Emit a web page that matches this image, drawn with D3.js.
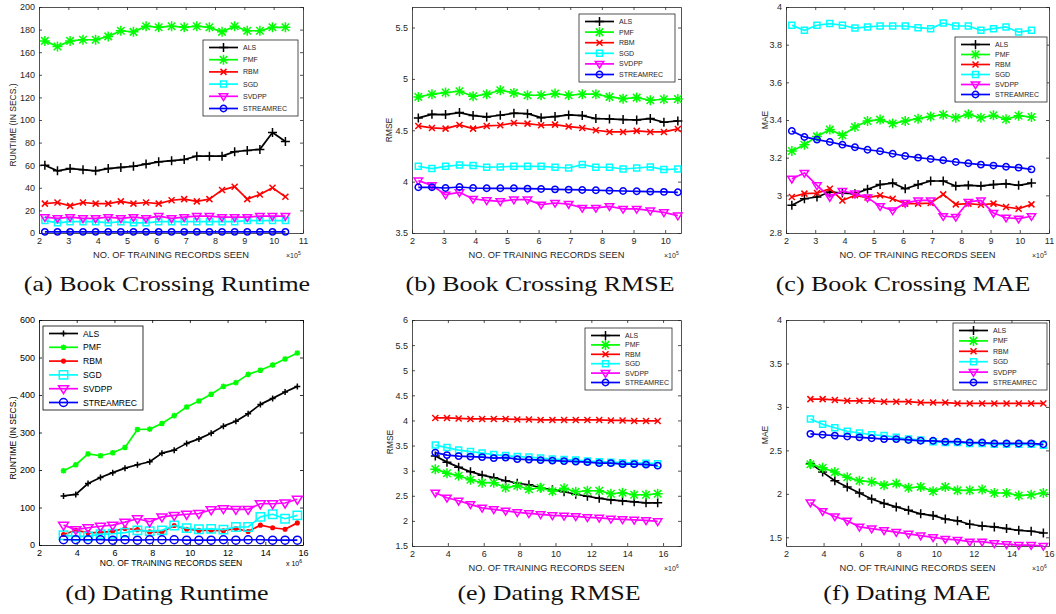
<!DOCTYPE html>
<html>
<head>
<meta charset="utf-8">
<script src="https://cdn.jsdelivr.net/npm/d3@7"></script>
<style>
  body { margin: 0; background: #fff; }
  svg { display: block; }
</style>
</head>
<body>
<script>
// ---- data ----
var methods = ['ALS', 'PMF', 'RBM', 'SGD', 'SVDPP', 'STREAMREC'];

// training records seen: x10^5 for Book Crossing, x10^6 for Dating
var bcX = [2.2, 2.63, 3.06, 3.5, 3.93, 4.36, 4.79, 5.22, 5.65, 6.08, 6.52, 6.95, 7.38, 7.81, 8.24, 8.67, 9.1, 9.53, 9.96, 10.4];
var datX = [3.3, 3.95, 4.6, 5.26, 5.91, 6.56, 7.22, 7.87, 8.52, 9.17, 9.83, 10.48, 11.13, 11.78, 12.44, 13.09, 13.74, 14.39, 15.05, 15.7];

// (a) Book Crossing runtime
var bcRunALS = [60, 55, 57, 56, 55, 57, 58, 59, 61, 63, 64, 65, 68, 68, 68, 72, 73, 74, 89, 81];
var bcRunPMF = [170, 165, 170, 171, 171, 174, 179, 178, 183, 182, 183, 182, 183, 182, 178, 183, 179, 179, 182, 182];
var bcRunRBM = [26, 27, 24, 27, 26, 26, 28, 26, 27, 26, 29, 30, 28, 30, 38, 41, 30, 34, 40, 32];
var bcRunSGD = [11, 9, 10, 10, 10, 9, 10, 9, 9, 10, 10, 10, 10, 10, 10, 10, 11, 11, 11, 11];
var bcRunSVDPP = [14, 13, 14, 13, 13, 14, 13, 14, 13, 15, 13, 14, 15, 15, 14, 14, 14, 15, 15, 15];
var bcRunSTREAMREC = [1, 1, 1, 1, 1, 1, 1, 1, 1, 1, 1, 1, 1, 1, 1, 1, 1, 1, 1, 1];

// (b) Book Crossing RMSE
var bcRmseALS = [4.62, 4.655, 4.653, 4.672, 4.643, 4.63, 4.646, 4.666, 4.662, 4.623, 4.633, 4.649, 4.643, 4.614, 4.61, 4.604, 4.601, 4.614, 4.578, 4.591];
var bcRmsePMF = [4.825, 4.851, 4.867, 4.88, 4.831, 4.851, 4.89, 4.864, 4.841, 4.841, 4.857, 4.841, 4.851, 4.851, 4.825, 4.808, 4.818, 4.792, 4.802, 4.805];
var bcRmseRBM = [4.542, 4.523, 4.516, 4.552, 4.516, 4.542, 4.549, 4.571, 4.565, 4.549, 4.555, 4.536, 4.523, 4.5, 4.484, 4.484, 4.494, 4.484, 4.484, 4.513];
var bcRmseSGD = [4.149, 4.127, 4.149, 4.162, 4.156, 4.14, 4.143, 4.149, 4.149, 4.149, 4.14, 4.133, 4.166, 4.14, 4.14, 4.123, 4.133, 4.143, 4.117, 4.123];
var bcRmseSVDPP = [4.01, 3.964, 3.873, 3.896, 3.831, 3.818, 3.808, 3.825, 3.825, 3.776, 3.792, 3.782, 3.744, 3.744, 3.76, 3.734, 3.734, 3.718, 3.701, 3.669];
var bcRmseSTREAMREC = [3.945, 3.945, 3.938, 3.948, 3.938, 3.935, 3.935, 3.935, 3.932, 3.929, 3.925, 3.922, 3.919, 3.916, 3.912, 3.909, 3.906, 3.903, 3.9, 3.896];

// (c) Book Crossing MAE
var bcMaeALS = [2.947, 2.982, 2.991, 3.018, 3.012, 3.009, 3.032, 3.057, 3.065, 3.035, 3.057, 3.076, 3.076, 3.05, 3.053, 3.05, 3.057, 3.062, 3.053, 3.065];
var bcMaePMF = [3.235, 3.269, 3.313, 3.349, 3.319, 3.363, 3.395, 3.402, 3.381, 3.395, 3.407, 3.419, 3.428, 3.412, 3.43, 3.412, 3.425, 3.404, 3.423, 3.416];
var bcMaeRBM = [2.991, 3.009, 3.012, 3.035, 2.973, 3.0, 2.988, 3.0, 2.982, 2.956, 2.956, 2.959, 3.005, 2.952, 2.956, 2.95, 2.956, 2.938, 2.929, 2.952];
var bcMaeSGD = [3.903, 3.876, 3.903, 3.912, 3.903, 3.888, 3.894, 3.899, 3.899, 3.899, 3.89, 3.885, 3.915, 3.899, 3.899, 3.876, 3.885, 3.894, 3.867, 3.876];
var bcMaeSVDPP = [3.088, 3.119, 3.053, 2.991, 3.023, 3.009, 2.988, 2.942, 2.92, 2.959, 2.973, 2.973, 2.889, 2.885, 2.965, 2.973, 2.906, 2.881, 2.876, 2.889];
var bcMaeSTREAMREC = [3.342, 3.31, 3.296, 3.283, 3.269, 3.255, 3.242, 3.234, 3.221, 3.209, 3.2, 3.193, 3.186, 3.177, 3.17, 3.163, 3.158, 3.152, 3.147, 3.138];

// (d) Dating runtime
var datRunALS = [131, 135, 164, 180, 193, 205, 214, 222, 245, 253, 271, 283, 298, 317, 330, 350, 375, 391, 408, 423];
var datRunPMF = [198, 214, 243, 238, 246, 260, 308, 309, 324, 345, 368, 384, 402, 423, 433, 455, 466, 480, 496, 512];
var datRunRBM = [28, 39, 33, 33, 37, 44, 41, 35, 34, 52, 42, 39, 39, 38, 44, 36, 53, 46, 42, 59];
var datRunSGD = [26, 23, 23, 29, 30, 33, 39, 37, 39, 52, 45, 42, 43, 41, 48, 48, 75, 82, 70, 79];
var datRunSVDPP = [53, 41, 46, 50, 53, 61, 70, 62, 75, 79, 82, 84, 94, 97, 95, 95, 110, 110, 112, 122];
var datRunSTREAMREC = [14, 14, 14, 14, 13, 14, 13, 14, 14, 14, 13, 13, 13, 14, 13, 14, 14, 13, 13, 13];

// (e) Dating RMSE
var datRmseALS = [3.29, 3.17, 3.07, 2.98, 2.91, 2.86, 2.8, 2.75, 2.72, 2.66, 2.62, 2.58, 2.53, 2.49, 2.45, 2.42, 2.4, 2.38, 2.36, 2.36];
var datRmsePMF = [3.03, 2.95, 2.9, 2.82, 2.76, 2.76, 2.66, 2.7, 2.63, 2.66, 2.59, 2.65, 2.58, 2.6, 2.6, 2.54, 2.56, 2.52, 2.52, 2.54];
var datRmseRBM = [4.05, 4.05, 4.04, 4.03, 4.03, 4.03, 4.03, 4.02, 4.02, 4.01, 4.01, 4.01, 4.01, 4.01, 4.01, 4.0, 4.0, 3.99, 3.99, 3.99];
var datRmseSGD = [3.51, 3.46, 3.41, 3.38, 3.35, 3.32, 3.3, 3.28, 3.27, 3.25, 3.23, 3.22, 3.21, 3.19, 3.18, 3.17, 3.16, 3.15, 3.15, 3.14];
var datRmseSVDPP = [2.56, 2.46, 2.4, 2.33, 2.26, 2.23, 2.2, 2.17, 2.15, 2.13, 2.11, 2.1, 2.09, 2.07, 2.06, 2.04, 2.03, 2.02, 2.01, 1.99];
var datRmseSTREAMREC = [3.36, 3.31, 3.29, 3.28, 3.27, 3.25, 3.26, 3.23, 3.22, 3.21, 3.2, 3.19, 3.18, 3.17, 3.15, 3.15, 3.13, 3.13, 3.12, 3.1];

// (f) Dating MAE
var datMaeALS = [2.35, 2.25, 2.15, 2.08, 2.01, 1.94, 1.89, 1.85, 1.81, 1.77, 1.75, 1.71, 1.69, 1.65, 1.63, 1.62, 1.6, 1.58, 1.57, 1.55];
var datMaePMF = [2.34, 2.3, 2.25, 2.19, 2.15, 2.14, 2.1, 2.12, 2.07, 2.08, 2.03, 2.08, 2.04, 2.04, 2.05, 2.01, 2.01, 1.98, 1.99, 2.01];
var datMaeRBM = [3.09, 3.09, 3.08, 3.07, 3.07, 3.07, 3.06, 3.06, 3.06, 3.05, 3.05, 3.05, 3.04, 3.04, 3.04, 3.04, 3.04, 3.04, 3.04, 3.04];
var datMaeSGD = [2.86, 2.8, 2.76, 2.72, 2.7, 2.68, 2.67, 2.65, 2.63, 2.62, 2.6, 2.59, 2.59, 2.58, 2.58, 2.57, 2.57, 2.57, 2.57, 2.56];
var datMaeSVDPP = [1.9, 1.8, 1.74, 1.69, 1.62, 1.6, 1.58, 1.56, 1.54, 1.52, 1.5, 1.48, 1.47, 1.45, 1.45, 1.43, 1.42, 1.41, 1.41, 1.4];
var datMaeSTREAMREC = [2.69, 2.68, 2.67, 2.66, 2.65, 2.64, 2.63, 2.63, 2.62, 2.61, 2.61, 2.6, 2.6, 2.59, 2.59, 2.58, 2.58, 2.58, 2.58, 2.57];

// tick values
var bcXTicks = [2, 3, 4, 5, 6, 7, 8, 9, 10, 11];
var bcXTicksB = [2, 3, 4, 5, 6, 7, 8, 9, 10];
var datXTicks = [2, 4, 6, 8, 10, 12, 14, 16];
var runTicksA = [0, 20, 40, 60, 80, 100, 120, 140, 160, 180, 200];
var rmseTicksB = [3.5, 4, 4.5, 5, 5.5];
var maeTicksC = [2.8, 3, 3.2, 3.4, 3.6, 3.8, 4];
var runTicksD = [0, 100, 200, 300, 400, 500, 600];
var rmseTicksE = [1.5, 2, 2.5, 3, 3.5, 4, 4.5, 5, 5.5, 6];
var maeTicksF = [1.5, 2, 2.5, 3, 3.5, 4];

// ---- styles ----
var colors = { ALS: '#000000', PMF: '#00ff00', RBM: '#ff0000', SGD: '#00ffff', SVDPP: '#ff00ff', STREAMREC: '#0000ff' };
var newMarks = { ALS: ['plus', 4.5], PMF: ['star', 5], RBM: ['x', 4], SGD: ['square', 3], SVDPP: ['tri', 4.2], STREAMREC: ['circle', 3.2] };
var oldMarks = { ALS: ['plus', 3], PMF: ['star', 2.8], RBM: ['dot', 1.8], SGD: ['square', 4.2], SVDPP: ['tri', 5], STREAMREC: ['circle', 4] };
var sans = "'Liberation Sans', Arial, sans-serif";

function pick(prefix) {
  var out = {};
  methods.forEach(function (m) { out[m] = window[prefix + m]; });
  return out;
}

var panels = [
  { left: 39, right: 303, top: 7, bottom: 233, xd: [2, 11], xt: bcXTicks, yd: [0, 200], yt: runTicksA,
    xs: bcX, ser: pick('bcRun'), ylab: 'RUNTIME (IN SECS.)', ylx: 13, yly: 125, exp: '5',
    leg: [203, 40, 95, 76], cap: '(a) Book Crossing Runtime', capx: 167, capy: 291 },
  { left: 412, right: 681, top: 7, bottom: 233, xd: [2, 10.5], xt: bcXTicksB, yd: [3.5, 5.7], yt: rmseTicksB,
    xs: bcX, ser: pick('bcRmse'), ylab: 'RMSE', ylx: 389, yly: 130, exp: '5',
    leg: [579, 14, 96, 68], cap: '(b) Book Crossing RMSE', capx: 540, capy: 291 },
  { left: 786, right: 1049, top: 7, bottom: 233, xd: [2, 11], xt: bcXTicks, yd: [2.8, 4], yt: maeTicksC,
    xs: bcX, ser: pick('bcMae'), ylab: 'MAE', ylx: 765, yly: 120, exp: '5',
    leg: [955, 37, 92, 65], cap: '(c) Book Crossing MAE', capx: 903, capy: 291 },
  { left: 39, right: 303, top: 320, bottom: 545, xd: [2, 16], xt: datXTicks, yd: [0, 600], yt: runTicksD,
    xs: datX, ser: pick('datRun'), ylab: 'RUNTIME (IN SECS.)', ylx: 13, yly: 438, exp: '6', old: true,
    leg: [43, 326, 100, 84], cap: '(d) Dating Runtime', capx: 167, capy: 600 },
  { left: 412, right: 681, top: 320, bottom: 546, xd: [2, 17], xt: datXTicks, yd: [1.5, 6], yt: rmseTicksE,
    xs: datX, ser: pick('datRmse'), ylab: 'RMSE', ylx: 390, yly: 442, exp: '6',
    leg: [585, 328, 87, 62], cap: '(e) Dating RMSE', capx: 549, capy: 600 },
  { left: 786, right: 1049, top: 320, bottom: 546, xd: [2, 16], xt: datXTicks, yd: [1.4, 4], yt: maeTicksF,
    xs: datX, ser: pick('datMae'), ylab: 'MAE', ylx: 765, yly: 435, exp: '6',
    leg: [953, 323, 94, 67], cap: '(f) Dating MAE', capx: 907, capy: 600 }
];

function markerPath(type, r) {
  var a = r * 0.75;
  switch (type) {
    case 'plus': return 'M' + (-r) + ',0H' + r + 'M0,' + (-r) + 'V' + r;
    case 'x': return 'M' + (-a) + ',' + (-a) + 'L' + a + ',' + a + 'M' + (-a) + ',' + a + 'L' + a + ',' + (-a);
    case 'star': return 'M' + (-r) + ',0H' + r + 'M0,' + (-r) + 'V' + r +
      'M' + (-a) + ',' + (-a) + 'L' + a + ',' + a + 'M' + (-a) + ',' + a + 'L' + a + ',' + (-a);
    case 'square': return 'M' + (-r) + ',' + (-r) + 'H' + r + 'V' + r + 'H' + (-r) + 'Z';
    case 'tri': return 'M' + (-r) + ',' + (-r * 0.6) + 'H' + r + 'L0,' + r + 'Z';
    case 'circle':
    case 'dot': return 'M' + r + ',0A' + r + ',' + r + ' 0 1,1 ' + (-r) + ',0A' + r + ',' + r + ' 0 1,1 ' + r + ',0Z';
  }
}

var svg = d3.select('body').append('svg').attr('width', 1056).attr('height', 614);

function drawMarker(g, m, x, y, p) {
  var mk = (p.old ? oldMarks : newMarks)[m];
  g.append('path')
    .attr('transform', 'translate(' + x + ',' + y + ')')
    .attr('d', markerPath(mk[0], mk[1]))
    .attr('fill', mk[0] === 'dot' ? colors[m] : 'none')
    .attr('stroke', colors[m])
    .attr('stroke-width', 1.5);
}

panels.forEach(function (p) {
  var ink = p.old ? '#000' : '#262626';
  var x = d3.scaleLinear().domain(p.xd).range([p.left, p.right]);
  var y = d3.scaleLinear().domain(p.yd).range([p.bottom, p.top]);
  var g = svg.append('g');

  // axes with inward ticks on all sides
  var fmt = function (d) { return d3.format('~g')(d); };
  var axB = g.append('g').attr('transform', 'translate(0,' + p.bottom + ')')
    .call(d3.axisBottom(x).tickValues(p.xt).tickSizeInner(-3).tickSizeOuter(0).tickPadding(5).tickFormat(fmt));
  var axT = g.append('g').attr('transform', 'translate(0,' + p.top + ')')
    .call(d3.axisTop(x).tickValues(p.xt).tickSizeInner(-3).tickSizeOuter(0).tickFormat(''));
  var axL = g.append('g').attr('transform', 'translate(' + p.left + ',0)')
    .call(d3.axisLeft(y).tickValues(p.yt).tickSizeInner(-3).tickSizeOuter(0).tickPadding(4).tickFormat(fmt));
  var axR = g.append('g').attr('transform', 'translate(' + p.right + ',0)')
    .call(d3.axisRight(y).tickValues(p.yt).tickSizeInner(-3).tickSizeOuter(0).tickFormat(''));
  [axB, axT, axL, axR].forEach(function (ax) {
    ax.select('.domain').attr('stroke', ink).attr('stroke-width', 0.8);
    ax.selectAll('line').attr('stroke', ink).attr('stroke-width', 0.8);
    ax.selectAll('text').attr('fill', ink).style('font-family', sans).style('font-size', '9px');
  });

  // series
  methods.forEach(function (m) {
    var vals = p.ser[m];
    var pts = vals.map(function (v, i) { return [x(p.xs[i]), y(v)]; });
    g.append('path').datum(pts)
      .attr('d', d3.line())
      .attr('fill', 'none')
      .attr('stroke', colors[m])
      .attr('stroke-width', 1.7)
      .attr('stroke-linejoin', 'round');
    var mg = g.append('g');
    pts.forEach(function (pt) { drawMarker(mg, m, pt[0], pt[1], p); });
  });

  // labels
  g.append('text')
    .attr('x', (p.left + p.right) / 2).attr('y', p.old ? p.bottom + 21 : p.bottom + 25)
    .attr('text-anchor', 'middle').attr('fill', ink)
    .style('font-family', sans).style('font-size', p.old ? '8.5px' : '9.3px')
    .text('NO. OF TRAINING RECORDS SEEN');
  var ex = g.append('text')
    .attr('x', p.right - 17).attr('y', p.old ? p.bottom + 21 : p.bottom + 25)
    .attr('fill', ink)
    .style('font-family', sans).style('font-size', '7px');
  ex.append('tspan').text(p.old ? 'x 10' : '\u00d710');
  ex.append('tspan').attr('dy', -3.5).style('font-size', '5px').text(p.exp);

  g.append('text')
    .attr('transform', 'translate(' + p.ylx + ',' + p.yly + ') rotate(-90)')
    .attr('text-anchor', 'middle').attr('dominant-baseline', 'central').attr('fill', ink)
    .style('font-family', sans).style('font-size', '8.5px')
    .text(p.ylab);

  // legend
  var L = p.leg;
  var lg = g.append('g').attr('transform', 'translate(' + L[0] + ',' + L[1] + ')');
  lg.append('rect').attr('width', L[2]).attr('height', L[3])
    .attr('fill', '#fff').attr('stroke', ink).attr('stroke-width', 0.8);
  var pad = 7.5, step = (L[3] - 2 * pad) / 5;
  methods.forEach(function (m, i) {
    var ly = pad + i * step;
    lg.append('line').attr('x1', 6).attr('x2', 35).attr('y1', ly).attr('y2', ly)
      .attr('stroke', colors[m]).attr('stroke-width', 1.7);
    drawMarker(lg, m, 20.5, ly, p);
    lg.append('text').attr('x', 40).attr('y', ly).attr('dominant-baseline', 'central')
      .attr('fill', ink)
      .style('font-family', sans).style('font-size', p.old ? '8.6px' : '7px')
      .text(m);
  });

  // caption, stretched a bit to the width of Computer Modern
  var cap = svg.append('text')
    .attr('x', p.capx).attr('y', p.capy)
    .attr('text-anchor', 'middle').attr('fill', '#111')
    .style('font-family', "'Liberation Serif', 'Times New Roman', serif").style('font-size', '22px')
    .text(p.cap);
  var w = cap.node().getComputedTextLength();
  cap.attr('textLength', w * 1.18).attr('lengthAdjust', 'spacingAndGlyphs');
});
</script>
</body>
</html>
